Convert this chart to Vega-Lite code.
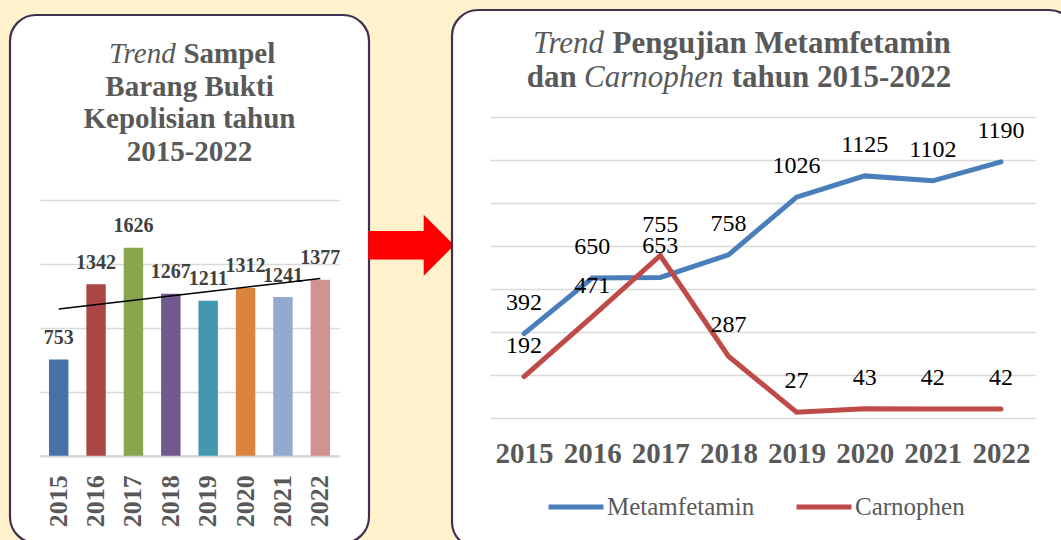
{
  "$schema": "https://vega.github.io/schema/vega-lite/v6.json",
  "background": "#FFF2CC",
  "padding": {"left": 8, "top": 8, "right": -14, "bottom": -8},
  "bounds": "flush",
  "center": true,
  "spacing": 83,
  "resolve": {"scale": {"color": "independent"}, "legend": {"color": "independent"}},
  "config": {
    "view": {"fill": "white", "stroke": "#3F3151", "strokeWidth": 2.2, "cornerRadius": 26},
    "axis": {"labelFont": "Liberation Serif", "titleFont": "Liberation Serif"},
    "legend": {"labelFont": "Liberation Serif"}
  },
  "hconcat": [
    {
      "width": 359,
      "height": 528,
      "title": {
        "text": "Trend\u00a0\u00a0\u00a0\u00a0\u00a0\u00a0\u00a0\u00a0\u00a0\u00a0\u00a0\u00a0\u00a0\u200b",
        "subtitle": ["\u200b\u00a0\u00a0\u00a0\u00a0\u00a0\u00a0\u00a0\u00a0\u00a0\u00a0\u00a0Sampel", "Barang Bukti", "Kepolisian tahun", "2015-2022"],
        "anchor": "middle",
        "frame": "group",
        "orient": "top",
        "offset": -152,
        "font": "Liberation Serif",
        "fontSize": 29,
        "fontStyle": "italic",
        "fontWeight": "normal",
        "color": "#595959",
        "lineHeight": 33,
        "subtitleFont": "Liberation Serif",
        "subtitleFontSize": 29,
        "subtitleFontStyle": "normal",
        "subtitleFontWeight": "bold",
        "subtitleColor": "#595959",
        "subtitleLineHeight": 32.7,
        "subtitlePadding": -29
      },
      "data": {
        "values": [
          {"year": 2015, "value": 753},
          {"year": 2016, "value": 1342},
          {"year": 2017, "value": 1626},
          {"year": 2018, "value": 1267},
          {"year": 2019, "value": 1211},
          {"year": 2020, "value": 1312},
          {"year": 2021, "value": 1241},
          {"year": 2022, "value": 1377}
        ]
      },
      "encoding": {
        "x": {
          "field": "year",
          "type": "ordinal",
          "scale": {"range": [30, 329], "paddingInner": 0.48, "paddingOuter": 0.24},
          "axis": {
            "orient": "bottom",
            "offset": -87.3,
            "title": null,
            "ticks": false,
            "domainColor": "#D9D9D9",
            "domainWidth": 2.5,
            "labelAngle": -90,
            "labelFontSize": 26,
            "labelFontWeight": "bold",
            "labelColor": "#595959",
            "labelPadding": 19
          }
        },
        "y": {
          "field": "value",
          "type": "quantitative",
          "scale": {"domain": [0, 2000], "range": [440.7, 185]},
          "axis": {
            "orient": "right",
            "values": [0, 500, 1000, 1500, 2000],
            "grid": true,
            "gridColor": "#D9D9D9",
            "gridWidth": 1.5,
            "labels": false,
            "ticks": false,
            "domain": false,
            "title": "➡",
            "titleFont": "DejaVu Sans",
            "titleFontSize": 114,
            "titleFontWeight": "bold",
            "titleColor": "#FF0000",
            "titleAngle": 0,
            "titleAlign": "center",
            "titleBaseline": "middle",
            "titleX": 40,
            "titleY": 231
          }
        }
      },
      "layer": [
        {
          "mark": {"type": "bar"},
          "encoding": {
            "color": {
              "field": "year",
              "type": "nominal",
              "scale": {"range": ["#4672A8", "#AA4644", "#89A54E", "#71588F", "#4298AF", "#DB843D", "#93A9CF", "#D19392"]},
              "legend": null
            }
          }
        },
        {
          "mark": {"type": "text", "dy": -21.5, "font": "Liberation Serif", "fontSize": 20, "fontWeight": "bold", "fill": "#404040"},
          "encoding": {"text": {"field": "value", "type": "quantitative"}}
        },
        {
          "transform": [{"regression": "value", "on": "year"}],
          "mark": {"type": "line", "color": "black", "strokeWidth": 1.5},
          "encoding": {}
        }
      ]
    },
    {
      "width": 623,
      "height": 538,
      "title": {
        "text": ["Trend\u00a0\u00a0\u00a0\u00a0\u00a0\u00a0\u00a0\u00a0\u00a0\u00a0\u00a0\u00a0\u00a0\u00a0\u00a0\u00a0\u00a0\u00a0\u00a0\u00a0\u00a0\u00a0\u00a0\u00a0\u00a0\u00a0\u00a0\u00a0\u00a0\u00a0\u00a0\u00a0\u00a0\u00a0\u00a0\u00a0\u00a0\u00a0\u00a0\u00a0\u00a0\u00a0\u00a0\u00a0\u200b", "\u200b\u00a0\u00a0\u00a0\u00a0\u00a0\u00a0\u00a0Carnophen\u00a0\u00a0\u00a0\u00a0\u00a0\u00a0\u00a0\u00a0\u00a0\u00a0\u00a0\u00a0\u00a0\u00a0\u00a0\u00a0\u00a0\u00a0\u00a0\u00a0\u00a0\u00a0\u00a0\u00a0\u00a0\u00a0\u00a0\u00a0\u00a0\u200b"],
        "subtitle": ["\u200b\u00a0\u00a0\u00a0\u00a0\u00a0\u00a0\u00a0\u00a0\u00a0\u00a0\u00a0Pengujian Metamfetamin", "dan\u00a0\u00a0\u00a0\u00a0\u00a0\u00a0\u00a0\u00a0\u00a0\u00a0\u00a0\u00a0\u00a0\u00a0\u00a0\u00a0\u00a0\u00a0\u00a0\u00a0tahun 2015-2022"],
        "anchor": "middle",
        "frame": "group",
        "orient": "top",
        "offset": -83.5,
        "dx": -24.5,
        "font": "Liberation Serif",
        "fontSize": 31,
        "fontStyle": "italic",
        "fontWeight": "normal",
        "color": "#595959",
        "lineHeight": 34,
        "subtitleFont": "Liberation Serif",
        "subtitleFontSize": 31,
        "subtitleFontStyle": "normal",
        "subtitleFontWeight": "bold",
        "subtitleColor": "#595959",
        "subtitleLineHeight": 34,
        "subtitlePadding": -65
      },
      "data": {
        "values": [
          {"year": 2015, "series": "Metamfetamin", "value": 392},
          {"year": 2016, "series": "Metamfetamin", "value": 650},
          {"year": 2017, "series": "Metamfetamin", "value": 653},
          {"year": 2018, "series": "Metamfetamin", "value": 758},
          {"year": 2019, "series": "Metamfetamin", "value": 1026},
          {"year": 2020, "series": "Metamfetamin", "value": 1125},
          {"year": 2021, "series": "Metamfetamin", "value": 1102},
          {"year": 2022, "series": "Metamfetamin", "value": 1190},
          {"year": 2015, "series": "Carnophen", "value": 192},
          {"year": 2016, "series": "Carnophen", "value": 471},
          {"year": 2017, "series": "Carnophen", "value": 755},
          {"year": 2018, "series": "Carnophen", "value": 287},
          {"year": 2019, "series": "Carnophen", "value": 27},
          {"year": 2020, "series": "Carnophen", "value": 43},
          {"year": 2021, "series": "Carnophen", "value": 42},
          {"year": 2022, "series": "Carnophen", "value": 42}
        ]
      },
      "encoding": {
        "x": {
          "field": "year",
          "type": "ordinal",
          "scale": {"range": [38, 583]},
          "axis": {
            "orient": "bottom",
            "offset": -130,
            "title": null,
            "ticks": false,
            "domain": false,
            "labelAngle": 0,
            "labelFontSize": 29,
            "labelFontWeight": "bold",
            "labelColor": "#595959",
            "labelPadding": 21
          }
        },
        "y": {
          "field": "value",
          "type": "quantitative",
          "scale": {"domain": [0, 1400], "range": [408, 106.7]},
          "axis": {
            "values": [0, 200, 400, 600, 800, 1000, 1200, 1400],
            "grid": true,
            "gridColor": "#D9D9D9",
            "gridWidth": 1.5,
            "labels": false,
            "ticks": false,
            "domain": false,
            "title": null
          }
        },
        "color": {
          "field": "series",
          "type": "nominal",
          "scale": {"domain": ["Metamfetamin", "Carnophen"], "range": ["#4A7EBB", "#BE4B48"]},
          "legend": {
            "orient": "none",
            "direction": "horizontal",
            "legendX": 94,
            "legendY": 467,
            "title": null,
            "padding": 0,
            "symbolType": "stroke",
            "symbolSize": 3025,
            "symbolStrokeWidth": 5,
            "labelFont": "Liberation Serif",
            "labelFontSize": 25,
            "labelColor": "#595959",
            "labelOffset": 1,
            "labelLimit": 300,
            "columnPadding": 31
          }
        }
      },
      "layer": [
        {
          "mark": {"type": "line", "strokeWidth": 5, "strokeCap": "round"}
        },
        {
          "mark": {"type": "text", "dy": -31, "font": "Liberation Serif", "fontSize": 24},
          "encoding": {
            "text": {"field": "value", "type": "quantitative"},
            "color": {"value": "black"}
          }
        }
      ]
    }
  ]
}
